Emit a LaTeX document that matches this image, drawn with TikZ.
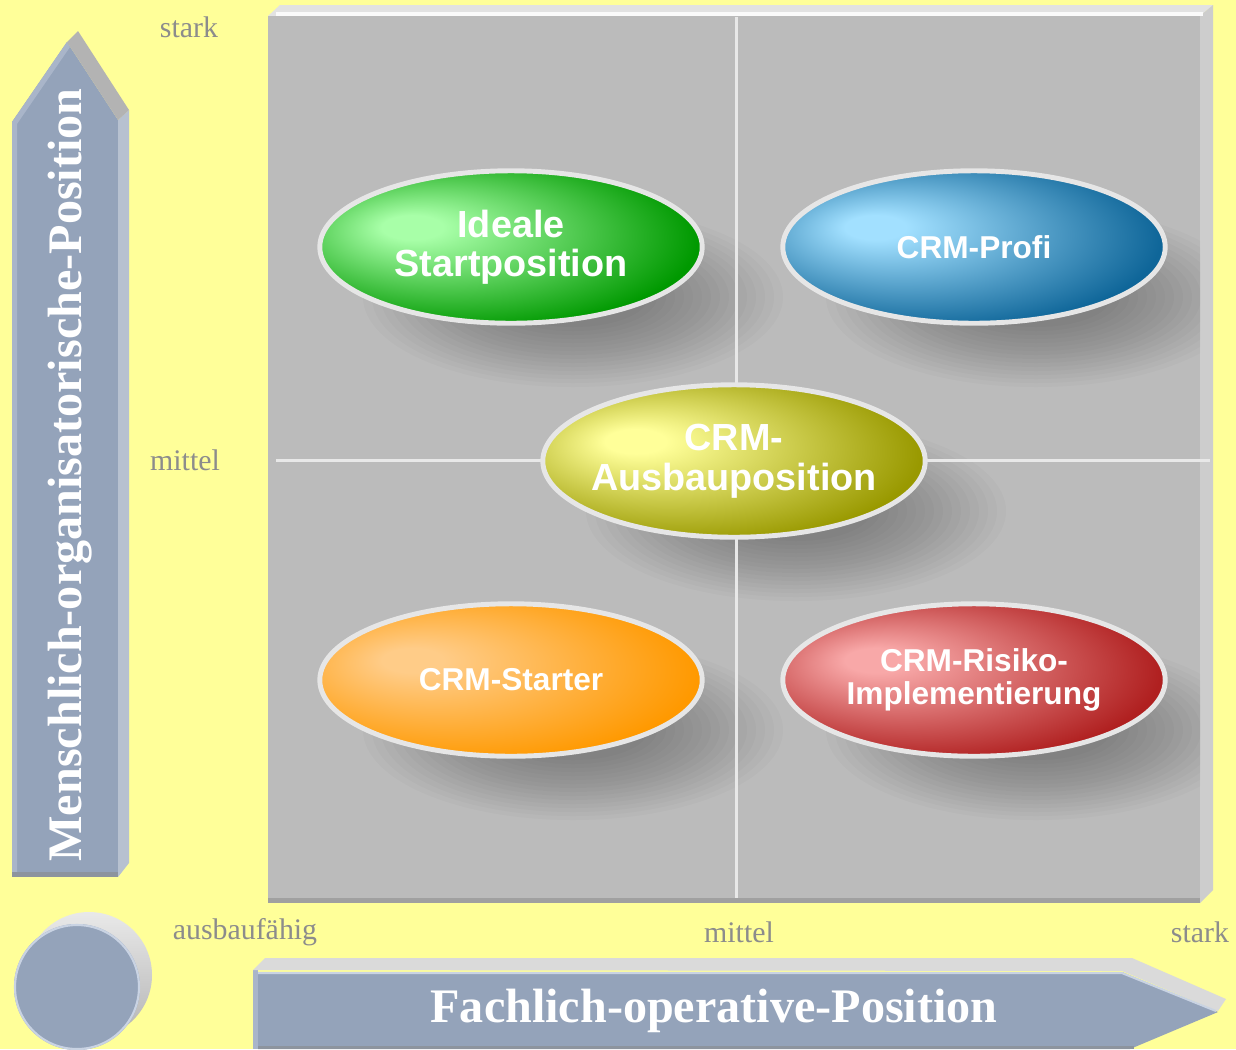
\documentclass[tikz,border=0pt]{standalone}
\usepackage{fontspec}
\newfontfamily\labelfont{Liberation Sans}
\newfontfamily\axisfont{Liberation Serif}
\usetikzlibrary{shapes.geometric}

\definecolor{paper}{HTML}{FFFF99}
\definecolor{field}{HTML}{BBBBBB}
\definecolor{fieldtop}{HTML}{E2E2E2}
\definecolor{fieldside}{HTML}{CDCDCD}
\definecolor{fielddark}{HTML}{A0A0A0}
\definecolor{grid}{HTML}{E8E8E8}
\definecolor{slate}{HTML}{94A3BA}
\definecolor{slatelight}{HTML}{A9B5C9}
\definecolor{slateside}{HTML}{B7C1D0}
\definecolor{slatedark}{HTML}{8D949E}
\definecolor{rimblue}{HTML}{C9D3E3}
\definecolor{bevel}{HTML}{B3B3B3}
\definecolor{bevellight}{HTML}{DADADA}
\definecolor{labelgray}{HTML}{8C8C8C}
\definecolor{rim}{HTML}{E6E6E6}
% position colours
\definecolor{idealLite}{HTML}{A8FFA8}
\definecolor{idealDark}{HTML}{009900}
\definecolor{profiLite}{HTML}{A2E0FF}
\definecolor{profiDark}{HTML}{0F6699}
\definecolor{ausbauLite}{HTML}{FFFF99}
\definecolor{ausbauDark}{HTML}{999900}
\definecolor{starterLite}{HTML}{FFCC88}
\definecolor{starterDark}{HTML}{FF9900}
\definecolor{risikoLite}{HTML}{F8A8A8}
\definecolor{risikoDark}{HTML}{B02020}
\colorlet{lite}{white}
\colorlet{dark}{black}

\pgfdeclareradialshading[lite,dark]{glossy}{\pgfpoint{-14bp}{7bp}}{color(0bp)=(lite); color(4bp)=(lite); color(30bp)=(dark); color(50bp)=(dark)}

\tikzset{
    quad/.style 2 args={ellipse, draw=rim, line width=2.8pt, minimum width=7.65cm, minimum height=3.05cm,
        inner xsep=-8pt, inner ysep=0pt, align=center, text=white, font=\labelfont\bfseries\fontsize{18}{19}\selectfont,
        /utils/exec={\colorlet{lite}{#1}\colorlet{dark}{#2}}, shading=glossy},
    bigquad/.style={font=\labelfont\bfseries\fontsize{21.5}{22.5}\selectfont},
    axislabel/.style={text=labelgray, font=\axisfont\fontsize{17}{18}\selectfont, inner sep=0pt},
    bigtitle/.style={text=white, font=\axisfont\bfseries\fontsize{27.4}{28}\selectfont, inner sep=0pt},
    haze/.style={fill=black, opacity=0.02}
}

\begin{document}
\begin{tikzpicture}[x=0.02cm, y=-0.02cm]
    % Background
    \useasboundingbox (0,0) rectangle (1236,1049);
    \fill[paper] (0,0) rectangle (1236,1049);

    % Draw field
    \fill[fieldtop] (268,16) -- (280,5) -- (1213,5) -- (1200,16) -- cycle;
    \fill[fieldside] (1200,16) -- (1213,5) -- (1213,890) -- (1200,903) -- cycle;
    \fill[field] (268,16) rectangle (1200,898);
    \fill[white!92!field] (276,12) rectangle (1203,16);
    \fill[fielddark] (268,898) rectangle (1200,903);

    % Draw shadows
    \begin{scope}
        \clip (268,16) rectangle (1200,898);
        \foreach \cx/\cy in {511/247, 974/247, 734/461, 511/680, 974/680}
            \foreach \k in {0,...,15}
                \path[haze] (\cx+62,\cy+50) ellipse ({210-9*\k} and {90-4*\k});
    \end{scope}

    % Draw grid
    \draw[grid, line width=1.7pt] (736,17) -- (736,898);
    \draw[grid, line width=1.7pt] (276,460) -- (1210,460);

    % Draw vertical arrow
    \fill[slate] (12,873) -- (12,122) -- (67,42) -- (118,120) -- (118,873) -- cycle;
    \fill[slatelight] (12,873) -- (12,122) -- (67,42) -- (70,47) -- (17,124) -- (17,873) -- cycle;
    \fill[slateside] (118,120) -- (129,110) -- (129,863) -- (118,877) -- cycle;
    \fill[bevel] (67,42) -- (78,31) -- (129,110) -- (118,120) -- cycle;
    \fill[slatedark] (12,872) rectangle (118,877);

    % Draw horizontal arrow
    \fill[slate] (258,972) -- (1122,972) -- (1218,1012) -- (1130,1049) -- (258,1049) -- cycle;
    \fill[slatelight] (253,970) rectangle (258,1049);
    \fill[bevellight] (253,970) -- (265,958) -- (1132,958) -- (1226,999) -- (1218,1011) -- (1122,971) -- cycle;
    \draw[rimblue, line width=1.2pt] (258,973) -- (1122,973) -- (1216,1011);
    \fill[slatedark] (258,1046) rectangle (1134,1049);

    % Draw disc
    \shade[top color=bevellight!60!white, bottom color=bevel] (89,975) circle (63);
    \fill[slate] (77,987) circle (63);
    \draw[rimblue, line width=1.2pt] (77,987) circle (62);

    % Axis labels
    \node[axislabel] (ystrong) at (189,27) {stark};
    \node[axislabel] (ymid) at (185,460) {mittel};
    \node[axislabel] (xweak) at (245,932) {ausbaufähig};
    \node[axislabel] (xmid) at (739,932) {mittel};
    \node[axislabel] (xstrong) at (1200,932) {stark};
    \node[bigtitle, rotate=90] (ytitle) at (70,475) {Menschlich-organisatorische-Position};
    \node[bigtitle] (xtitle) at (714,1011) {Fachlich-operative-Position};

    % Draw positions
    \node[quad={idealLite}{idealDark}, bigquad] (ideal) at (511,247) {Ideale\\Startposition};
    \node[quad={profiLite}{profiDark}] (profi) at (974,247) {CRM-Profi};
    \node[quad={ausbauLite}{ausbauDark}, bigquad] (ausbau) at (734,461) {CRM-\\Ausbauposition};
    \node[quad={starterLite}{starterDark}] (starter) at (511,680) {CRM-Starter};
    \node[quad={risikoLite}{risikoDark}] (risiko) at (974,680) {CRM-Risiko-\\Implementierung};
\end{tikzpicture}
\end{document}
